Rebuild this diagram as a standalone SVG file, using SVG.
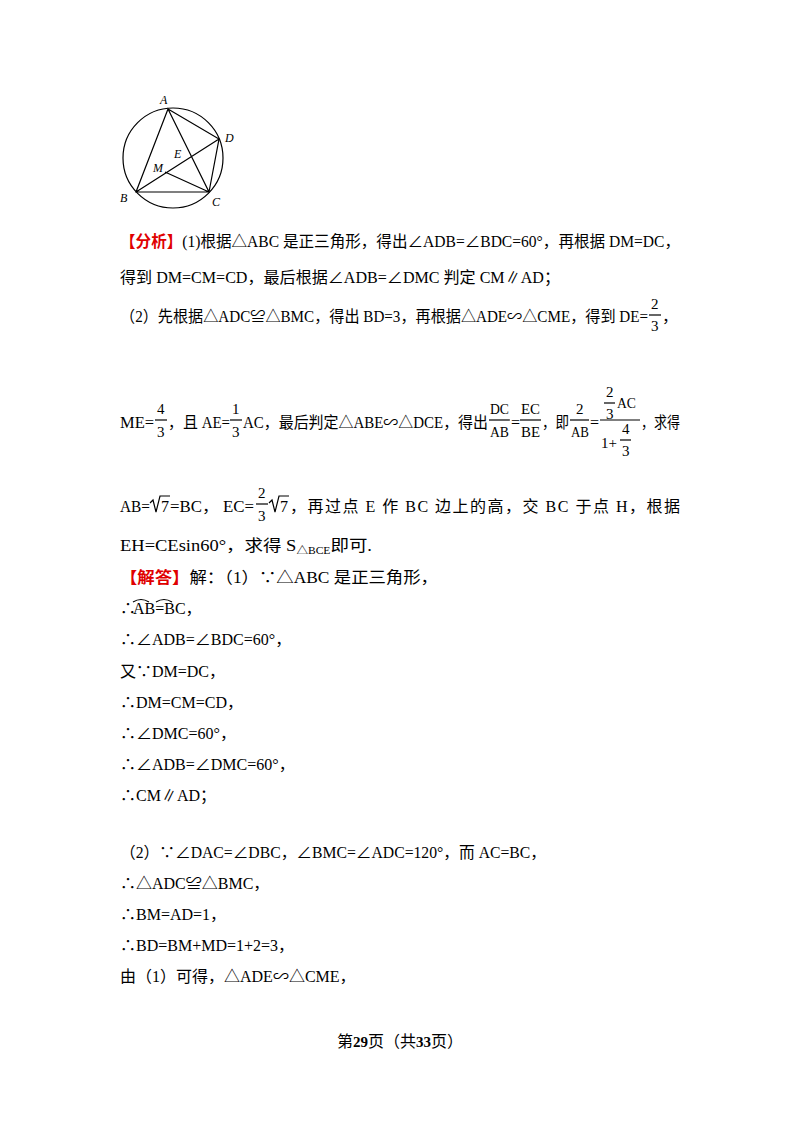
<svg xmlns="http://www.w3.org/2000/svg" width="800" height="1132" viewBox="0 0 800 1132">
<style>
text{font-family:"Liberation Serif","Noto Sans CJK SC",serif;font-size:16px;fill:#000}
.f{font-size:15px}
.lb{font-family:"Liberation Serif",serif;font-style:italic;font-size:12px}
.r{fill:#e00000;font-weight:bold}
line,circle,path{stroke:#000;fill:none;stroke-width:1.2}
</style>
<rect width="800" height="1132" fill="#fff"/>
<g id="figure">
<circle cx="173" cy="158" r="50"/>
<path d="M168,109 L136,192 L209,192 Z M168,109 L219,139 L209,192 M136,192 L219,139 M165,172 L209,192"/>
<text class="lb" x="160" y="104">A</text><text class="lb" x="225" y="142">D</text>
<text class="lb" x="174" y="158">E</text><text class="lb" x="153" y="172">M</text>
<text class="lb" x="120" y="202">B</text><text class="lb" x="212" y="206">C</text>
</g>
<g id="text">
<text x="120" y="247" textLength="560" lengthAdjust="spacingAndGlyphs"><tspan class="r">【分析】</tspan>(1)根据△ABC 是正三角形，得出∠ADB=∠BDC=60°，再根据 DM=DC，</text>
<text x="120" y="283" textLength="440" lengthAdjust="spacingAndGlyphs">得到 DM=CM=CD，最后根据∠ADB=∠DMC 判定 CM∥AD；</text>
<text x="120" y="322" textLength="528" lengthAdjust="spacingAndGlyphs">（2）先根据△ADC≌△BMC，得出 BD=3，再根据△ADE∽△CME，得到 DE=</text>
<text class="f" x="651" y="309">2</text><line x1="649" y1="315" x2="661" y2="315"/><text class="f" x="651" y="331">3</text><text x="662" y="322">，</text>

<text x="120" y="428" textLength="34" lengthAdjust="spacingAndGlyphs">ME=</text><text class="f" x="157" y="414">4</text><line x1="155" y1="420" x2="167" y2="420"/><text class="f" x="157" y="437">3</text>
<text x="168" y="428" textLength="62" lengthAdjust="spacingAndGlyphs">，且 AE=</text><text class="f" x="232" y="414">1</text><line x1="230" y1="420" x2="242" y2="420"/><text class="f" x="232" y="437">3</text>
<text x="243" y="428" textLength="245" lengthAdjust="spacingAndGlyphs">AC，最后判定△ABE∽△DCE，得出</text>
<text class="f" x="490" y="414" textLength="19" lengthAdjust="spacingAndGlyphs">DC</text><line x1="489" y1="420" x2="510" y2="420"/><text class="f" x="490" y="437" textLength="19" lengthAdjust="spacingAndGlyphs">AB</text>
<text x="511" y="428">=</text>
<text class="f" x="521" y="414" textLength="19" lengthAdjust="spacingAndGlyphs">EC</text><line x1="520" y1="420" x2="541" y2="420"/><text class="f" x="521" y="437" textLength="19" lengthAdjust="spacingAndGlyphs">BE</text>
<text x="542" y="428" textLength="27" lengthAdjust="spacingAndGlyphs">，即</text>
<text class="f" x="576" y="414">2</text><line x1="570" y1="420" x2="589" y2="420"/><text class="f" x="571" y="437" textLength="18" lengthAdjust="spacingAndGlyphs">AB</text>
<text x="590" y="428">=</text>
<text class="f" x="606" y="397">2</text><line x1="604" y1="403" x2="615" y2="403"/><text class="f" x="606" y="419">3</text><text class="f" x="617" y="408" textLength="19" lengthAdjust="spacingAndGlyphs">AC</text>
<line x1="600" y1="420" x2="640" y2="420"/>
<text class="f" x="601" y="448">1+</text><text class="f" x="622" y="434">4</text><line x1="620" y1="440" x2="631" y2="440"/><text class="f" x="622" y="456">3</text>
<text x="641" y="428" textLength="39" lengthAdjust="spacingAndGlyphs">，求得</text>

<text x="120" y="512" textLength="30" lengthAdjust="spacingAndGlyphs">AB=</text><path d="M150,503 L153,500 L156,512 L160,496 L170,496"/><text x="161" y="512">7</text><text x="170" y="512" textLength="84" lengthAdjust="spacingAndGlyphs">=BC， EC=</text>
<text class="f" x="258" y="498">2</text><line x1="256" y1="504" x2="268" y2="504"/><text class="f" x="258" y="521">3</text>
<path d="M269,503 L272,500 L275,512 L279,496 L289,496"/><text x="280" y="512">7</text>
<text x="290" y="512" textLength="390">，再过点 E 作 BC 边上的高，交 BC 于点 H，根据</text>
<text x="120" y="551" textLength="252" lengthAdjust="spacingAndGlyphs">EH=CEsin60°，求得 S<tspan font-size="10" dy="3">△BCE</tspan><tspan dy="-3">即可.</tspan></text>
<text x="120" y="583" textLength="318" lengthAdjust="spacingAndGlyphs"><tspan class="r">【解答】</tspan>解：（1）∵△ABC 是正三角形，</text>
<text x="120" y="614">∴</text><path d="M133,602 Q141,597 149,602 M156,602 Q164,597 172,602"/><text x="133" y="614">AB=BC，</text>
<text x="120" y="645">∴∠ADB=∠BDC=60°，</text>
<text x="120" y="677">又∵DM=DC，</text>
<text x="120" y="708">∴DM=CM=CD，</text>
<text x="120" y="739">∴∠DMC=60°，</text>
<text x="120" y="770">∴∠ADB=∠DMC=60°，</text>
<text x="120" y="801">∴CM∥AD；</text>
<text x="120" y="858" textLength="426" lengthAdjust="spacingAndGlyphs">（2）∵∠DAC=∠DBC，∠BMC=∠ADC=120°，而 AC=BC，</text>
<text x="120" y="889">∴△ADC≌△BMC，</text>
<text x="120" y="920">∴BM=AD=1，</text>
<text x="120" y="951">∴BD=BM+MD=1+2=3，</text>
<text x="120" y="982">由（1）可得，△ADE∽△CME，</text>
<text x="400" y="1047" text-anchor="middle" font-size="13">第<tspan font-weight="bold" font-size="15">29</tspan>页（共<tspan font-weight="bold" font-size="15">33</tspan>页）</text>
</g>
</svg>
